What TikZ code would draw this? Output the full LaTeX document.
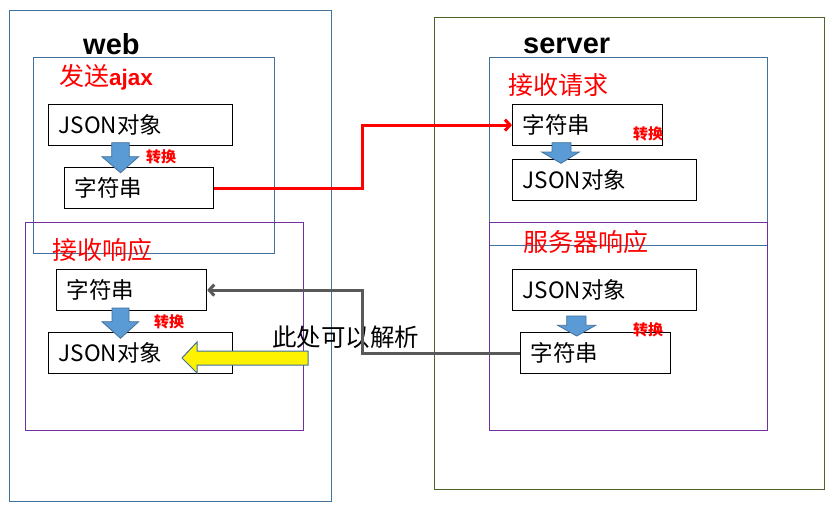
\documentclass[tikz,border=0pt]{standalone}
\usepackage{fontspec}
\setmainfont{Noto Sans CJK SC}
\newfontfamily\latinb{Liberation Sans}
\usetikzlibrary{arrows.meta}
\definecolor{frameblue}{HTML}{41719C}
\definecolor{framepurple}{HTML}{7030A0}
\definecolor{framegreen}{HTML}{4F6228}
\definecolor{arrowblue}{HTML}{5B9BD5}
\definecolor{linkgray}{HTML}{595959}
\begin{document}
\begin{tikzpicture}[x=1pt,y=-1pt,
  frame/.style={line width=1pt},
  boxbase/.style={draw=black, fill=white, line width=1.2pt, minimum height=41pt, inner xsep=10pt, inner ysep=0pt, anchor=north west, align=left, font=\fontsize{22.5}{26}\selectfont},
  jbox/.style={boxbase, text width=164pt},
  sbox/.style={boxbase, text width=130pt},
  title/.style={text=red, inner sep=0pt, anchor=west, font=\fontsize{25}{29}\selectfont},
  head/.style={inner sep=0pt, anchor=base west, font=\latinb\bfseries\fontsize{29}{33}\selectfont},
  conv/.style={text=red, inner sep=0pt, anchor=west, font=\bfseries\fontsize{15}{17}\selectfont},
  blockarrow/.style={fill=arrowblue, draw=frameblue, line width=0.8pt},
  link/.style={line width=3pt, -{Straight Barb[length=5pt,width=11pt]}}
]
\useasboundingbox[fill=white] (0,0) rectangle (834,515);
% frames
\draw[frame, draw=frameblue] (9,10) rectangle (331,501);
\draw[frame, draw=frameblue] (33,57) rectangle (274,253);
\draw[frame, draw=framepurple] (25,222) rectangle (303,430);
\draw[frame, draw=framegreen] (434,17) rectangle (824,489);
\draw[frame, draw=frameblue] (489,57) rectangle (767,245);
\draw[frame, draw=framepurple] (489,222) rectangle (767,430);
% headings
\node[head] (web) at (83,54) {web};
\node[head] (server) at (523,53) {server};
\node[title] (send) at (59,77) {发送{\latinb\bfseries\fontsize{22.5}{26}\selectfont ajax}};
\node[title] (recv) at (52,250) {接收响应};
\node[title] (req) at (508,85) {接收请求};
\node[title] (resp) at (523,242) {服务器响应};
% boxes
\node[jbox] (wj1) at (48,104) {JSON对象};
\node[sbox, text width=129pt] (ws1) at (64,167) {字符串};
\node[sbox] (ws2) at (56,269) {字符串};
\node[jbox] (wj2) at (48,332) {JSON对象};
\node[sbox] (ss1) at (512,104) {字符串};
\node[jbox] (sj1) at (512,159) {JSON对象};
\node[jbox] (sj2) at (512,269) {JSON对象};
\node[sbox] (ss2) at (520,332) {字符串};
% block arrows
\filldraw[blockarrow] (111.7,142.7)--(129.3,142.7)--(129.3,156.7)--(138.7,156.7)--(120.5,172.7)--(102,156.7)--(111.7,156.7)--cycle;
\filldraw[blockarrow] (112,308)--(129,308)--(129,321.7)--(138.7,321.7)--(120.5,338.3)--(102,321.7)--(112,321.7)--cycle;
\filldraw[blockarrow] (552,142.7)--(571,142.7)--(571,152)--(579.3,152)--(561,163.3)--(541.7,152)--(552,152)--cycle;
\filldraw[blockarrow] (566.7,316)--(586,316)--(586,325.3)--(595.7,325.3)--(576.7,336)--(557.7,325.3)--(566.7,325.3)--cycle;
\filldraw[fill=yellow, draw=frameblue, line width=1pt] (182,358)--(197,342)--(197,351)--(308,351)--(308,365)--(197,365)--(197,373)--cycle;
% conversion labels
\node[conv] (c1) at (146,157) {转换};
\node[conv] (c2) at (154,322) {转换};
\node[conv] (c3) at (633,134) {转换};
\node[conv] (c4) at (633,330) {转换};
\node[inner sep=0pt, anchor=west, font=\fontsize{24.5}{28}\selectfont] (note) at (272,337) {此处可以解析};
% connectors
\coordinate (mid) at (362,0);
\draw[link, red] (ws1.east) -- (ws1.east -| mid) |- (ss1.west);
\draw[link, linkgray] (ss2.west) -- (ss2.west -| mid) |- (ws2.east);
\end{tikzpicture}
\end{document}
